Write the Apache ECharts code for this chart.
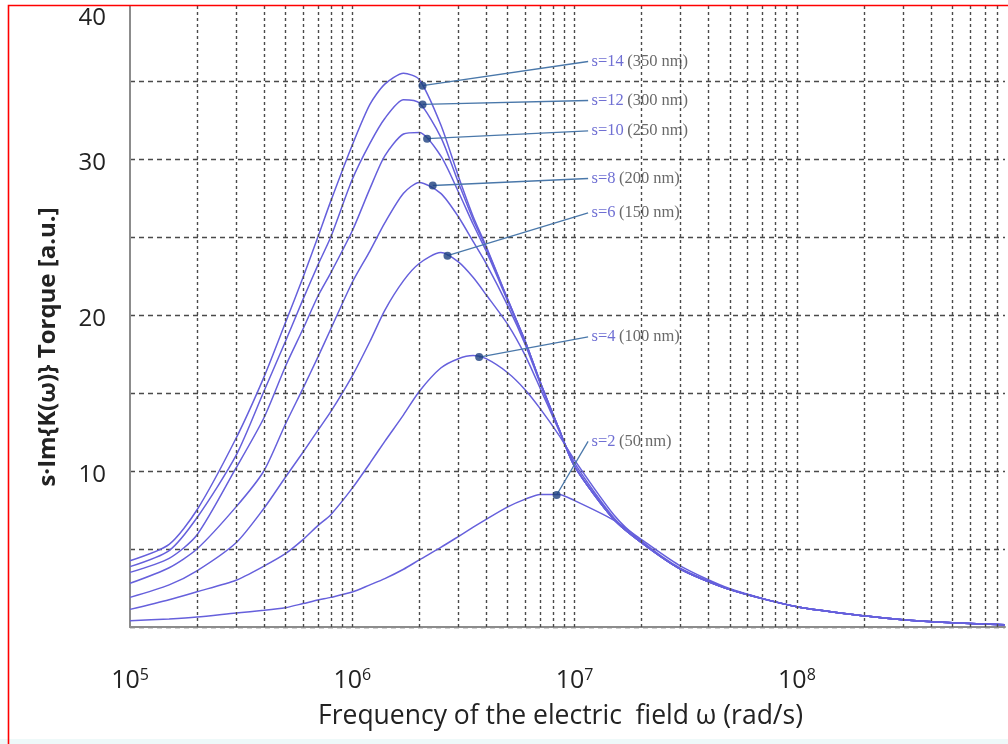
<!DOCTYPE html>
<html><head><meta charset="utf-8">
<script src="https://cdn.jsdelivr.net/npm/echarts@6/dist/echarts.min.js"></script>
<style>html,body{margin:0;padding:0;background:#fff}#c{width:1008px;height:744px}</style>
</head><body><div id="c"></div>
<script>
// ---- data ----
const omega = [1e5, 1.5e5, 2e5, 3e5, 4e5, 5e5, 6e5, 7e5, 8e5, 1e6, 1.2e6, 1.4e6, 1.7e6, 2e6, 2.5e6, 3e6, 3.5e6, 4e6, 5e6, 6e6, 7e6, 8.5e6, 1e7, 1.5e7, 2e7, 3e7, 5e7, 1e8, 2e8, 3e8, 5e8, 8.6e8];
const s2  = [0.4, 0.52, 0.64, 0.9, 1.07, 1.24, 1.5, 1.73, 1.9, 2.24, 2.7, 3.1, 3.7, 4.3, 5.1, 5.8, 6.4, 6.9, 7.7, 8.2, 8.5, 8.5, 8.1, 6.85, 5.6, 3.9, 2.45, 1.3, 0.72, 0.47, 0.28, 0.14];
const s4  = [1.13, 1.75, 2.26, 3.0, 3.9, 4.7, 5.6, 6.5, 7.2, 8.9, 10.5, 11.9, 13.6, 15.1, 16.6, 17.2, 17.4, 17.2, 16.3, 15.2, 14.0, 12.3, 10.7, 7.2, 5.5, 3.75, 2.4, 1.3, 0.72, 0.47, 0.28, 0.14];
const s6  = [1.9, 2.7, 3.6, 5.4, 7.6, 9.6, 11.2, 12.6, 13.8, 16.1, 18.3, 20.3, 22.2, 23.3, 24.0, 23.4, 22.4, 21.3, 19.4, 17.4, 15.3, 12.6, 10.5, 7.0, 5.4, 3.7, 2.4, 1.3, 0.72, 0.47, 0.28, 0.14];
const s8  = [2.8, 3.8, 5.0, 7.7, 10.0, 13.0, 15.3, 17.3, 19.1, 22.1, 24.1, 25.9, 27.8, 28.5, 27.8, 26.3, 24.7, 23.3, 20.6, 18.1, 15.6, 12.7, 10.3, 6.9, 5.4, 3.7, 2.4, 1.3, 0.72, 0.47, 0.28, 0.14];
const s10 = [3.5, 4.4, 5.9, 10.2, 13.4, 16.7, 19.1, 21.2, 22.7, 25.4, 28.1, 30.2, 31.6, 31.7, 30.2, 27.9, 25.8, 24.1, 20.9, 18.3, 15.7, 12.7, 10.3, 6.9, 5.4, 3.7, 2.4, 1.3, 0.72, 0.47, 0.28, 0.14];
const s12 = [3.87, 4.9, 7.0, 11.0, 15.1, 18.3, 21.0, 23.2, 25.0, 28.7, 31.0, 32.6, 33.8, 33.6, 31.4, 28.5, 26.1, 24.3, 21.0, 18.3, 15.7, 12.7, 10.3, 6.9, 5.4, 3.7, 2.4, 1.3, 0.72, 0.47, 0.28, 0.14];
const s14 = [4.25, 5.3, 7.5, 12.1, 16.0, 19.5, 22.4, 25.0, 27.3, 30.9, 33.5, 34.8, 35.5, 35.1, 32.2, 28.9, 26.3, 24.4, 21.0, 18.3, 15.7, 12.7, 10.3, 6.9, 5.4, 3.7, 2.4, 1.3, 0.72, 0.47, 0.28, 0.14];
const curves = [s2, s4, s6, s8, s10, s12, s14];
const sValues = [2, 4, 6, 8, 10, 12, 14];
const sizes = ['50 nm', '100 nm', '150 nm', '200 nm', '250 nm', '300 nm', '350 nm'];
// marker dots on curves
const dotOmega = [8.3e6, 3.72e6, 2.68e6, 2.3e6, 2.17e6, 2.07e6, 2.07e6];
const dotValue = [8.46, 17.3, 23.8, 28.3, 31.3, 33.5, 34.7];
// label anchors (data coordinates)
const labelOmega = [1.15e7, 1.15e7, 1.15e7, 1.15e7, 1.15e7, 1.15e7, 1.15e7];
const labelValue = [11.9, 18.6, 26.55, 28.75, 31.8, 33.75, 36.25];
// axes
const xMin = 1e5, xMax = 8.63e8;
const decades = [1e5, 1e6, 1e7, 1e8];
const multipliers = [1, 2, 3, 4, 5, 6, 7, 8, 9];
const yLabeled = [10, 20, 30, 40];

// ---- chart ----
const FONT = 'Open Sans';
const SERIF = 'Liberation Serif';
const curveColor = '#6660dc';
const vGrid = [];
decades.forEach(d => multipliers.forEach(m => { const v = d * m; if (v > xMin && v < xMax) vGrid.push(v); }));

const series = [];
series.push({
  type: 'line', name: 'vgrid', data: [], silent: true, z: 1, animation: false,
  markLine: {
    silent: true, symbol: ['none', 'none'], animation: false,
    label: { show: false },
    lineStyle: { color: '#4a4a4a', type: [3, 3], width: 1.4 },
    data: vGrid.map(v => ({ xAxis: v }))
  }
});
sValues.forEach((s, i) => {
  series.push({
    type: 'line', name: 's=' + s, z: 3, animation: false,
    data: omega.map((w, j) => [w, curves[i][j]]),
    showSymbol: false, smooth: 0.25,
    lineStyle: { color: curveColor, width: 1.5 }
  });
});
series.push({
  type: 'line', name: 'leaders', data: [], z: 4, animation: false,
  markLine: {
    silent: true, symbol: ['none', 'none'], animation: false,
    label: { show: false },
    lineStyle: { color: '#4a78aa', width: 1.3, type: 'solid' },
    data: sValues.map((s, i) => [{ coord: [dotOmega[i], dotValue[i]] }, { coord: [labelOmega[i], labelValue[i]] }])
  }
});
series.push({
  type: 'scatter', name: 'dots', z: 5, animation: false,
  data: dotOmega.map((w, i) => [w, dotValue[i]]),
  symbolSize: 8, itemStyle: { color: '#1c3f7e' }
});
series.push({
  type: 'scatter', name: 'labels', z: 6, animation: false,
  data: labelOmega.map((w, i) => [w, labelValue[i]]),
  symbolSize: 1, itemStyle: { color: 'rgba(0,0,0,0)' },
  labelLayout: { hideOverlap: false },
  label: {
    show: true, position: 'right', distance: 3,
    formatter: p => '{s|s=' + sValues[p.dataIndex] + '} {n|(' + sizes[p.dataIndex] + ')}',
    rich: {
      s: { color: '#4b4bc8', fontFamily: SERIF, fontSize: 16.5 },
      n: { color: '#444', fontFamily: SERIF, fontSize: 16.5 }
    }
  }
});

const option = {
  backgroundColor: '#fff',
  animation: false,
  grid: { left: 130, right: 1, top: 3, bottom: 117 },
  xAxis: {
    type: 'log', logBase: 10, min: xMin, max: xMax,
    axisLine: { lineStyle: { color: '#8c8c8c', width: 2 } },
    axisTick: { show: false },
    splitLine: { show: false },
    axisLabel: {
      margin: 40, color: '#222', fontFamily: FONT,
      formatter: v => { const e = Math.log10(v); if (Math.abs(e - Math.round(e)) > 1e-6) return ''; return '{b|10}{p|' + Math.round(e) + '}'; },
      rich: {
        b: { fontSize: 25, fontFamily: FONT, color: '#222' },
        p: { fontSize: 16, fontFamily: FONT, color: '#222', padding: [0, 0, 12, 0] }
      }
    },
    name: 'Frequency of the electric  field ω (rad/s)',
    nameLocation: 'middle', nameGap: 76,
    nameTextStyle: { fontSize: 26.5, color: '#222', fontFamily: FONT, padding: [0, 14, 0, 0] }
  },
  yAxis: {
    type: 'value', min: 0, max: 40, interval: 5,
    axisLine: { show: true, lineStyle: { color: '#8c8c8c', width: 2 } },
    axisTick: { show: false },
    splitLine: { lineStyle: { color: '#4a4a4a', type: [5, 4], width: 1.4 } },
    axisLabel: {
      margin: 24, color: '#222', fontFamily: FONT, fontSize: 24,
      formatter: v => yLabeled.indexOf(v) < 0 ? '' : (v === 40 ? '{t|40}' : '{n|' + v + '}'),
      rich: {
        n: { fontSize: 24, fontFamily: FONT, color: '#222', padding: [8, 0, 0, 0] },
        t: { fontSize: 24, fontFamily: FONT, color: '#222', padding: [30, 0, 0, 0] }
      }
    },
    name: 's·Im{K(ω)} Torque [a.u.]',
    nameLocation: 'middle', nameGap: 70, nameRotate: 90,
    nameTextStyle: { fontSize: 24, fontWeight: 'bold', color: '#222', fontFamily: FONT, padding: [0, 64, 0, 0] }
  },
  graphic: [
    { type: 'rect', z: 100, silent: true, shape: { x: 0, y: 0, width: 1008, height: 5 }, style: { fill: '#fff' } },
    { type: 'rect', z: 100, silent: true, shape: { x: 0, y: 739, width: 1008, height: 5 }, style: { fill: '#eef9f9' } },
    { type: 'polyline', z: 101, silent: true, shape: { points: [[8.5, 744], [8.5, 5.5], [1008, 5.5]] }, style: { stroke: '#f00', lineWidth: 1.6, fill: null } }
  ],
  series: series
};
const chart = echarts.init(document.getElementById('c'));
chart.setOption(option);
</script>
</body></html>
